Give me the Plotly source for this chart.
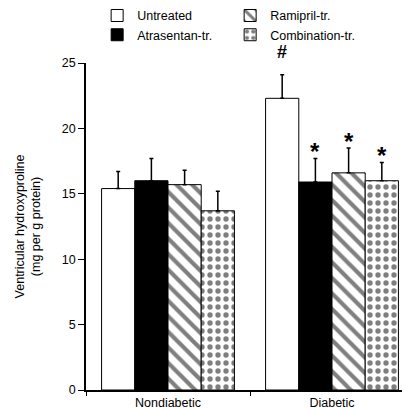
import plotly.graph_objects as go

groups = ["Nondiabetic", "Diabetic"]
series = ["Untreated", "Atrasentan-tr.", "Ramipril-tr.", "Combination-tr."]
means = {
    "Untreated": [15.4, 22.3],
    "Atrasentan-tr.": [16.0, 15.9],
    "Ramipril-tr.": [15.7, 16.6],
    "Combination-tr.": [13.7, 16.0],
}
sems = {
    "Untreated": [1.3, 1.8],
    "Atrasentan-tr.": [1.7, 1.8],
    "Ramipril-tr.": [1.1, 1.9],
    "Combination-tr.": [1.5, 1.4],
}
marks = {  # significance marks: (group index, series index)
    "#": [(1, 0)],
    "*": [(1, 1), (1, 2), (1, 3)],
}
yticks = [0, 5, 10, 15, 20, 25]

styles = {
    "Untreated": dict(color="white", pattern=None, rank=1),
    "Atrasentan-tr.": dict(color="black", pattern=None, rank=3),
    "Ramipril-tr.": dict(color="white", pattern=dict(shape="\\", fgcolor="black", bgcolor="white",
                                                       size=11, solidity=0.38, fillmode="overlay"), rank=2),
    "Combination-tr.": dict(color="white", pattern=dict(shape=".", fgcolor="black", bgcolor="white",
                                                          size=8, solidity=0.35, fillmode="overlay"), rank=4),
}

fig = go.Figure()
for s in series:
    st = styles[s]
    marker = dict(color=st["color"], line=dict(color="black", width=1))
    if st["pattern"]:
        marker["pattern"] = st["pattern"]
    fig.add_trace(go.Bar(
        name=s, x=groups, y=means[s], marker=marker, legendrank=st["rank"],
        error_y=dict(type="data", array=sems[s], arrayminus=[0, 0], symmetric=False,
                     color="black", thickness=1.5, width=2),
    ))

bargap = 0.19
w = (1 - bargap) / len(series)
for txt, items in marks.items():
    for gi, si in items:
        s = series[si]
        xpos = gi + (si - (len(series) - 1) / 2) * w
        ytop = means[s][gi] + sems[s][gi]
        fig.add_annotation(x=xpos, y=ytop, xref="x", yref="y", text="<b>%s</b>" % txt,
                           showarrow=False, yanchor="middle",
                           yshift=7 if txt == "*" else 23,
                           font=dict(size=24 if txt == "*" else 18, color="black",
                                     family="Liberation Sans, Arial, sans-serif"))

fig.update_layout(
    width=410, height=409,
    margin=dict(l=78, r=4, t=55, b=27, autoexpand=False),
    plot_bgcolor="white", paper_bgcolor="white",
    barmode="group", bargap=bargap, bargroupgap=0,
    font=dict(family="Liberation Sans, Arial, sans-serif", size=12, color="black"),
    legend=dict(orientation="h", x=0.034, xanchor="left", y=1.19, yanchor="top",
                entrywidth=88, entrywidthmode="pixels", font=dict(size=12.5),
                itemwidth=30, tracegroupgap=0, bgcolor="rgba(0,0,0,0)"),
    showlegend=True,
)
fig.update_xaxes(type="category", tickson="boundaries", ticks="outside", ticklen=4,
                 tickcolor="black", showline=True, linecolor="black", linewidth=1.5,
                 showgrid=False, tickfont=dict(size=12.5))
fig.update_yaxes(range=[0, 25], tickvals=yticks, ticks="outside", ticklen=6, tickcolor="black",
                 showline=True, linecolor="black", linewidth=1.5, showgrid=False, zeroline=False,
                 tickfont=dict(size=12.5),
                 title=dict(text="Ventricular hydroxyproline<br>(mg per g protein)", font=dict(size=12.5),
                            standoff=18))

fig.write_html("out.html")
